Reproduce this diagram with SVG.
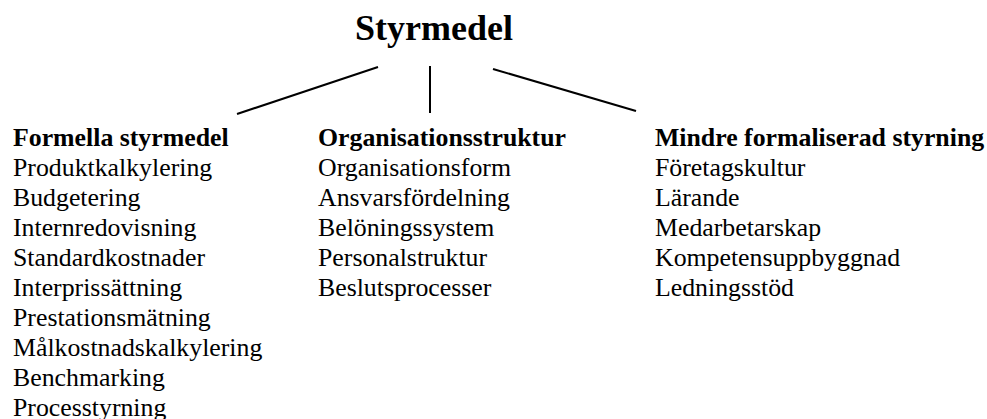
<svg xmlns="http://www.w3.org/2000/svg" width="987" height="419" viewBox="0 0 987 419">
  <style>
    text { font-family: "Liberation Serif", "Times New Roman", serif; fill: #000; }
    .title { font-size: 36px; font-weight: bold; }
    .head { font-size: 25.8px; font-weight: bold; }
    .item { font-size: 25.8px; }
    .conn line { stroke: #000; stroke-width: 2; fill: none; }
  </style>
  <rect width="987" height="419" fill="#fff"/>

  <g id="root">
    <text class="title" x="434" y="40" text-anchor="middle">Styrmedel</text>
  </g>

  <g id="connectors" class="conn">
    <line x1="378" y1="67" x2="237" y2="114"/>
    <line x1="430" y1="66" x2="430" y2="113"/>
    <line x1="493" y1="69" x2="636" y2="111"/>
  </g>

  <g id="formella">
    <text class="head" x="13" y="146">Formella styrmedel</text>
    <text class="item" x="13" y="176">Produktkalkylering</text>
    <text class="item" x="13" y="206">Budgetering</text>
    <text class="item" x="13" y="236">Internredovisning</text>
    <text class="item" x="13" y="266">Standardkostnader</text>
    <text class="item" x="13" y="296">Interprissättning</text>
    <text class="item" x="13" y="326">Prestationsmätning</text>
    <text class="item" x="13" y="356">Målkostnadskalkylering</text>
    <text class="item" x="13" y="386">Benchmarking</text>
    <text class="item" x="13" y="416">Processtyrning</text>
  </g>

  <g id="organisation">
    <text class="head" x="318" y="146">Organisationsstruktur</text>
    <text class="item" x="318" y="176">Organisationsform</text>
    <text class="item" x="318" y="206">Ansvarsfördelning</text>
    <text class="item" x="318" y="236">Belöningssystem</text>
    <text class="item" x="318" y="266">Personalstruktur</text>
    <text class="item" x="318" y="296">Beslutsprocesser</text>
  </g>

  <g id="mindre-formaliserad">
    <text class="head" x="655" y="146">Mindre formaliserad styrning</text>
    <text class="item" x="655" y="176">Företagskultur</text>
    <text class="item" x="655" y="206">Lärande</text>
    <text class="item" x="655" y="236">Medarbetarskap</text>
    <text class="item" x="655" y="266">Kompetensuppbyggnad</text>
    <text class="item" x="655" y="296">Ledningsstöd</text>
  </g>
</svg>
